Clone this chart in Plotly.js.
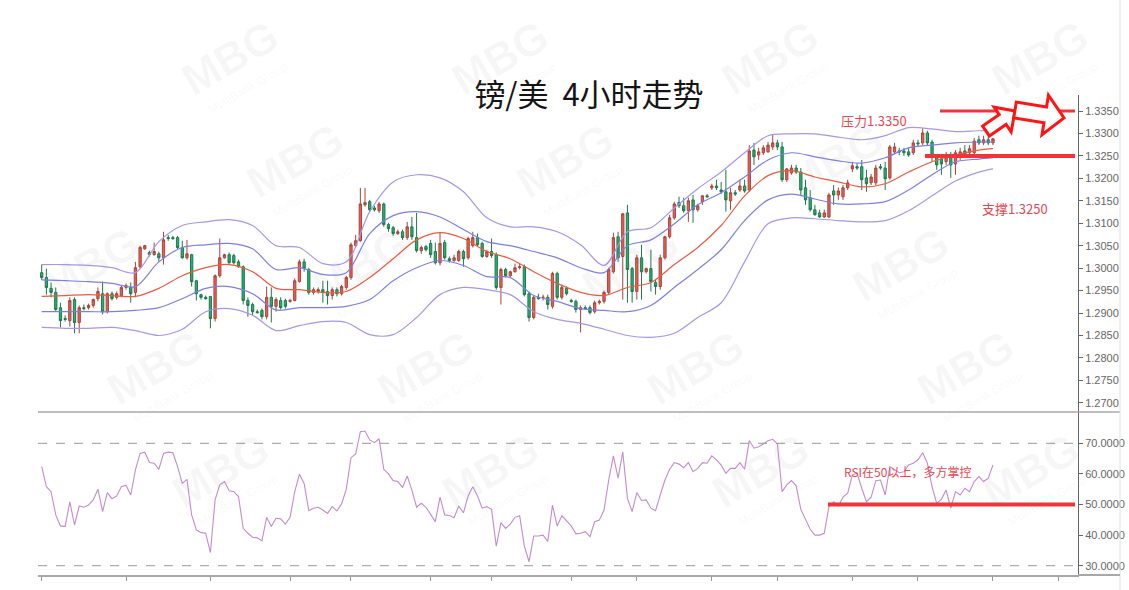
<!DOCTYPE html>
<html>
<head>
<meta charset="utf-8">
<script src="https://cdn.plot.ly/plotly-3.0.1.min.js"></script>
<style>html,body{margin:0;padding:0;background:#fff;}#chart{width:1129px;height:590px;}</style>
</head>
<body>
<div id="chart"></div>
<script>
// ---------- DATA ----------
const openP = [
1.2990,1.2979,1.2955,1.2946,1.2912,1.2888,1.2883,1.2930,1.2879,1.2912,
1.2912,1.2917,1.2932,1.2943,1.2903,1.2943,1.2935,1.2939,1.2957,1.2957,
1.2946,1.3003,1.3043,1.3035,1.3030,1.3032,1.3023,1.3068,1.3068,1.3068,
1.3046,1.3023,1.3030,1.2972,1.2941,1.2935,1.2937,1.2888,1.2983,1.3023,
1.3030,1.3028,1.3014,1.3003,1.2928,1.2919,1.2903,1.2906,1.2892,1.2935,
1.2915,1.2928,1.2928,1.2926,1.2928,1.2970,1.3014,1.2997,1.2946,1.2948,
1.2952,1.2948,1.2939,1.2952,1.2943,1.2957,1.2979,1.3050,1.3061,1.3141,
1.3148,1.3134,1.3128,1.3143,1.3097,1.3090,1.3077,1.3081,1.3068,1.3092,
1.3068,1.3039,1.3048,1.3055,1.3037,1.3012,1.3057,1.3021,1.3017,1.3017,
1.3037,1.3023,1.3050,1.3068,1.3055,1.3026,1.3037,1.3030,1.2957,1.2997,
1.2983,1.2992,1.3001,1.3003,1.2943,1.2890,1.2935,1.2935,1.2935,1.2915,
1.2988,1.2935,1.2955,1.2928,1.2926,1.2908,1.2912,1.2912,1.2903,1.2923,
1.2926,1.2946,1.2992,1.3070,1.3026,1.3123,1.2999,1.2948,1.3023,1.2992,
1.2999,1.2968,1.2959,1.3023,1.3070,1.3112,1.3146,1.3139,1.3128,1.3152,
1.3130,1.3148,1.3161,1.3179,1.3183,1.3174,1.3170,1.3150,1.3168,1.3174,
1.3183,1.3174,1.3263,1.3252,1.3257,1.3259,1.3270,1.3279,1.3270,1.3197,
1.3212,1.3223,1.3214,1.3179,1.3157,1.3130,1.3123,1.3114,1.3114,1.3172,
1.3163,1.3159,1.3179,1.3221,1.3226,1.3226,1.3201,1.3190,1.3190,1.3226,
1.3223,1.3201,1.3259,1.3261,1.3261,1.3259,1.3257,1.3279,1.3279,1.3301,
1.3281,1.3246,1.3243,1.3237,1.3248,1.3232,1.3248,1.3261,1.3257,1.3257,
1.3286,1.3279,1.3286,1.3279];
const highP = [
1.3008,1.2999,1.2968,1.2957,1.2923,1.2895,1.2935,1.2935,1.2917,1.2919,
1.2921,1.2932,1.2957,1.2970,1.2946,1.2948,1.2948,1.2961,1.2966,1.2968,
1.3014,1.3050,1.3052,1.3039,1.3057,1.3037,1.3081,1.3074,1.3072,1.3072,
1.3061,1.3063,1.3032,1.2974,1.2943,1.2939,1.2937,1.2986,1.3066,1.3032,
1.3035,1.3032,1.3019,1.3006,1.2935,1.2923,1.2908,1.2910,1.2959,1.2957,
1.2935,1.2935,1.2932,1.2932,1.2977,1.3019,1.3021,1.3001,1.2957,1.2957,
1.2972,1.2972,1.2957,1.2957,1.2963,1.2983,1.3057,1.3074,1.3179,1.3179,
1.3152,1.3139,1.3148,1.3146,1.3101,1.3094,1.3086,1.3086,1.3103,1.3114,
1.3123,1.3050,1.3052,1.3063,1.3057,1.3079,1.3063,1.3026,1.3030,1.3041,
1.3041,1.3070,1.3081,1.3077,1.3059,1.3041,1.3066,1.3035,1.3001,1.3001,
1.2994,1.3010,1.3010,1.3008,1.2948,1.2939,1.2943,1.2941,1.2941,1.2992,
1.2992,1.2961,1.2959,1.2932,1.2930,1.2917,1.2917,1.2917,1.2928,1.2930,
1.2950,1.3001,1.3079,1.3081,1.3123,1.3141,1.3003,1.3030,1.3052,1.3001,
1.3041,1.2974,1.3030,1.3072,1.3119,1.3148,1.3159,1.3157,1.3157,1.3163,
1.3143,1.3163,1.3165,1.3188,1.3197,1.3192,1.3219,1.3179,1.3174,1.3197,
1.3197,1.3274,1.3279,1.3268,1.3274,1.3281,1.3297,1.3286,1.3281,1.3223,
1.3230,1.3230,1.3223,1.3197,1.3174,1.3141,1.3130,1.3130,1.3168,1.3185,
1.3179,1.3185,1.3197,1.3237,1.3234,1.3241,1.3219,1.3210,1.3230,1.3232,
1.3237,1.3274,1.3279,1.3268,1.3268,1.3268,1.3286,1.3286,1.3312,1.3306,
1.3286,1.3252,1.3252,1.3259,1.3259,1.3263,1.3268,1.3274,1.3274,1.3290,
1.3295,1.3295,1.3295,1.3290];
const lowP = [
1.2974,1.2941,1.2935,1.2903,1.2868,1.2881,1.2870,1.2855,1.2855,1.2906,
1.2908,1.2912,1.2926,1.2897,1.2899,1.2928,1.2930,1.2935,1.2952,1.2923,
1.2935,1.2999,1.3041,1.3026,1.3028,1.3014,1.3008,1.3061,1.3063,1.3041,
1.3021,1.3019,1.2959,1.2928,1.2930,1.2930,1.2866,1.2881,1.2979,1.3021,
1.3010,1.3008,1.3001,1.2919,1.2892,1.2895,1.2899,1.2886,1.2886,1.2879,
1.2903,1.2908,1.2910,1.2923,1.2926,1.2968,1.2992,1.2941,1.2941,1.2943,
1.2923,1.2919,1.2930,1.2937,1.2939,1.2952,1.2974,1.3046,1.3059,1.3137,
1.3126,1.3126,1.3123,1.3092,1.3081,1.3072,1.3074,1.3063,1.3063,1.3063,
1.3035,1.3032,1.3037,1.3023,1.3008,1.3006,1.3019,1.3012,1.3014,1.3014,
1.3003,1.3019,1.3046,1.3048,1.3023,1.3023,1.3023,1.2952,1.2919,1.2979,
1.2979,1.2990,1.2997,1.2937,1.2881,1.2886,1.2930,1.2928,1.2908,1.2910,
1.2930,1.2930,1.2939,1.2923,1.2901,1.2857,1.2908,1.2897,1.2899,1.2919,
1.2921,1.2941,1.2988,1.3014,1.2930,1.2923,1.2923,1.2930,1.2930,1.2988,
1.2948,1.2941,1.2952,1.3019,1.3066,1.3108,1.3134,1.3123,1.3103,1.3101,
1.3126,1.3141,1.3157,1.3174,1.3174,1.3165,1.3126,1.3130,1.3161,1.3170,
1.3168,1.3170,1.3230,1.3241,1.3252,1.3257,1.3263,1.3263,1.3192,1.3192,
1.3208,1.3210,1.3163,1.3141,1.3126,1.3117,1.3112,1.3112,1.3112,1.3141,
1.3152,1.3152,1.3174,1.3214,1.3219,1.3174,1.3170,1.3185,1.3185,1.3219,
1.3174,1.3197,1.3254,1.3252,1.3250,1.3248,1.3252,1.3272,1.3274,1.3274,
1.3237,1.3219,1.3208,1.3230,1.3201,1.3208,1.3241,1.3248,1.3252,1.3252,
1.3274,1.3274,1.3274,1.3274];
const closeP = [
1.2979,1.2957,1.2946,1.2908,1.2883,1.2886,1.2928,1.2879,1.2912,1.2910,
1.2917,1.2930,1.2948,1.2903,1.2943,1.2932,1.2943,1.2957,1.2961,1.2943,
1.3001,1.3046,1.3050,1.3030,1.3037,1.3023,1.3063,1.3066,1.3066,1.3046,
1.3023,1.3032,1.2970,1.2943,1.2935,1.2932,1.2888,1.2983,1.3023,1.3030,
1.3012,1.3012,1.3003,1.2928,1.2917,1.2903,1.2901,1.2892,1.2935,1.2915,
1.2930,1.2912,1.2915,1.2928,1.2972,1.3014,1.2999,1.2946,1.2952,1.2952,
1.2946,1.2939,1.2952,1.2943,1.2959,1.2979,1.3052,1.3061,1.3143,1.3146,
1.3130,1.3130,1.3143,1.3097,1.3088,1.3077,1.3081,1.3068,1.3092,1.3070,
1.3039,1.3046,1.3041,1.3030,1.3012,1.3055,1.3023,1.3017,1.3023,1.3037,
1.3021,1.3066,1.3068,1.3052,1.3026,1.3037,1.3028,1.2957,1.2997,1.2983,
1.2992,1.3001,1.3003,1.2941,1.2890,1.2935,1.2932,1.2935,1.2919,1.2988,
1.2935,1.2957,1.2943,1.2926,1.2908,1.2912,1.2910,1.2901,1.2923,1.2926,
1.2946,1.2997,1.3068,1.3023,1.3121,1.2997,1.2948,1.3023,1.2992,1.2999,
1.2970,1.2959,1.3023,1.3070,1.3112,1.3143,1.3139,1.3128,1.3150,1.3130,
1.3139,1.3161,1.3159,1.3183,1.3179,1.3170,1.3152,1.3168,1.3165,1.3183,
1.3172,1.3261,1.3248,1.3259,1.3268,1.3274,1.3279,1.3270,1.3197,1.3221,
1.3223,1.3214,1.3174,1.3152,1.3130,1.3119,1.3114,1.3123,1.3163,1.3163,
1.3172,1.3179,1.3190,1.3228,1.3223,1.3197,1.3188,1.3203,1.3223,1.3223,
1.3199,1.3270,1.3270,1.3259,1.3257,1.3252,1.3279,1.3277,1.3301,1.3279,
1.3248,1.3230,1.3232,1.3252,1.3230,1.3257,1.3259,1.3252,1.3266,1.3283,
1.3279,1.3286,1.3279,1.3288];

// Bollinger-style band lines, read at every 5th bar
const bandBars = [0,5,10,15,20,25,30,35,40,45,50,55,60,65,70,75,80,85,90,95,100,105,110,115,120,125,130,135,140,145,150,155,160,165,170,175,180,185,190,195,200,203];
const upperOuter = [1.3008,1.3008,1.3006,1.3001,1.2990,1.3059,1.3095,1.3103,1.3108,1.3095,1.3050,1.3046,1.3010,1.3014,1.3126,1.3192,1.3208,1.3201,1.3170,1.3112,1.3092,1.3092,1.3081,1.3052,1.3006,1.3081,1.3090,1.3134,1.3177,1.3214,1.3257,1.3295,1.3299,1.3299,1.3292,1.3286,1.3295,1.3313,1.3310,1.3304,1.3306,1.3306];
const upperInner = [1.2974,1.2972,1.2970,1.2966,1.2959,1.3014,1.3046,1.3052,1.3055,1.3043,1.2997,1.3001,1.2986,1.2990,1.3077,1.3117,1.3126,1.3114,1.3086,1.3059,1.3050,1.3037,1.3023,1.3001,1.2990,1.3050,1.3063,1.3099,1.3141,1.3168,1.3203,1.3241,1.3257,1.3248,1.3239,1.3234,1.3246,1.3268,1.3274,1.3279,1.3281,1.3281];
const middleLine = [1.2937,1.2939,1.2941,1.2939,1.2937,1.2955,1.2983,1.3001,1.3008,1.2992,1.2955,1.2952,1.2946,1.2948,1.2979,1.3021,1.3063,1.3079,1.3066,1.3037,1.3021,1.2992,1.2966,1.2946,1.2939,1.2957,1.2968,1.3008,1.3046,1.3095,1.3161,1.3206,1.3217,1.3203,1.3192,1.3181,1.3188,1.3214,1.3237,1.3252,1.3263,1.3266];
const lowerInner = [1.2903,1.2903,1.2903,1.2903,1.2906,1.2912,1.2932,1.2955,1.2959,1.2943,1.2907,1.2912,1.2912,1.2915,1.2930,1.2972,1.3001,1.3017,1.3006,1.2981,1.2979,1.2939,1.2926,1.2910,1.2906,1.2903,1.2917,1.2957,1.2997,1.3041,1.3106,1.3152,1.3165,1.3154,1.3143,1.3143,1.3148,1.3174,1.3208,1.3237,1.3243,1.3246];
const lowerOuter = [1.2868,1.2866,1.2866,1.2868,1.2861,1.2850,1.2864,1.2903,1.2910,1.2895,1.2861,1.2872,1.2881,1.2879,1.2852,1.2852,1.2890,1.2941,1.2957,1.2952,1.2941,1.2903,1.2886,1.2877,1.2864,1.2850,1.2846,1.2855,1.2890,1.2923,1.3014,1.3099,1.3112,1.3110,1.3106,1.3103,1.3106,1.3128,1.3161,1.3194,1.3214,1.3221];

const rsiValues = [
62.4,55.8,54.2,46.6,43.0,42.8,50.9,43.3,49.5,49.1,49.8,51.5,55.0,47.7,53.9,51.9,52.8,55.8,56.3,53.1,
61.3,66.7,67.1,63.7,63.5,61.5,66.7,67.1,66.9,62.4,56.9,58.2,46.6,41.7,40.8,40.6,34.3,51.5,56.4,57.5,
54.5,54.2,52.6,42.2,40.6,39.3,39.1,38.1,45.8,42.8,45.5,45.3,43.6,45.8,54.2,59.9,56.9,48.0,48.8,49.1,
48.2,47.1,49.3,47.9,50.2,55.0,65.3,66.5,73.8,74.0,71.1,70.2,71.5,61.5,60.0,57.8,57.5,55.6,59.3,54.7,
49.1,50.4,49.1,46.6,
44.4,52.4,46.6,46.4,45.7,49.5,47.3,52.8,55.8,52.8,48.8,49.3,48.4,36.4,44.1,42.2,43.6,45.8,46.3,36.4,
31.3,39.7,39.7,40.0,37.9,49.8,43.0,46.3,44.6,43.0,40.4,40.6,41.1,39.5,44.4,44.9,48.2,58.0,65.9,58.6,
67.2,52.0,47.7,53.9,51.3,51.5,48.8,48.0,53.1,58.0,61.5,63.7,63.2,62.0,63.7,60.7,61.8,63.7,63.5,65.9,
64.6,62.9,60.2,61.8,61.8,63.7,61.5,70.9,68.4,68.9,69.8,70.8,71.3,69.8,54.2,56.4,57.8,56.1,48.4,44.9,
41.9,40.0,
40.0,40.6,49.3,50.9,49.5,52.4,53.7,59.7,60.2,55.3,50.9,52.4,57.8,58.0,53.1,62.4,61.3,60.4,60.7,62.9,
63.5,64.6,66.9,63.5,55.8,50.4,51.7,54.7,48.8,54.2,53.1,55.3,54.2,57.5,59.1,57.5,58.6,62.9];

const priceTicks = [1.2700,1.2750,1.2800,1.2850,1.2900,1.2950,1.3000,1.3050,1.3100,1.3150,1.3200,1.3250,1.3300,1.3350];
const rsiTicks = [30,40,50,60,70];
const dayTicks = [0,18,36,53,66,83,96,113,127,143,157,173,187,203,217];

const resistanceLevel = 1.3350;
const supportLevel = 1.3250;
const rsiMidLevel = 50;
const rsiUpper = 70, rsiLower = 30;

// ---------- LAYOUT GEOMETRY ----------
const W = 1129, H = 590;
const PL = 38, PR = 1078, PT = 95, PB = 575;
const splitPx = 412;
const fx = x => (x - PL) / (PR - PL);
const fy = y => (PB - y) / (PB - PT);
const barPx = 4.686, bar0Px = 41.7;
const xAt = p => (p - bar0Px) / barPx;   // pixel -> bar index (for decorations)

const idx = openP.map((_, i) => i);
const rsiIdx = rsiValues.map((_, i) => i);

function bandTrace(y, color, w) {
  return {type:'scatter', mode:'lines', x: bandBars, y: y, xaxis:'x', yaxis:'y',
    line:{color:color, width:w, shape:'spline', smoothing:0.9}, hoverinfo:'skip', showlegend:false};
}

const traces = [
  bandTrace(upperOuter, '#a597ea', 1.2),
  bandTrace(upperInner, '#7d7fe6', 1.2),
  bandTrace(lowerInner, '#7d7fe6', 1.2),
  bandTrace(lowerOuter, '#a597ea', 1.2),
  bandTrace(middleLine, '#ee5a3e', 1.2),
  {type:'candlestick', x: idx, open: openP, high: highP, low: lowP, close: closeP,
   xaxis:'x', yaxis:'y', showlegend:false, whiskerwidth:0,
   increasing:{fillcolor:'#ec5e52', line:{color:'#a8453e', width:1}},
   decreasing:{fillcolor:'#23b370', line:{color:'#22774e', width:1}}},
  {type:'scatter', mode:'lines', x: rsiIdx, y: rsiValues, xaxis:'x', yaxis:'y2',
   line:{color:'#c48bcc', width:1.1}, showlegend:false, hoverinfo:'skip'}
];

function arrowPath(tx, ty, hx, hy, s, h, L) {
  const dx = hx - tx, dy = hy - ty, len = Math.hypot(dx, dy);
  const ux = dx/len, uy = dy/len, nx = -uy, ny = ux;
  const neckX = hx - ux*L, neckY = hy - uy*L;
  const pts = [
    [tx + nx*s, ty + ny*s], [neckX + nx*s, neckY + ny*s], [neckX + nx*h, neckY + ny*h],
    [hx, hy], [neckX - nx*h, neckY - ny*h], [neckX - nx*s, neckY - ny*s], [tx - nx*s, ty - ny*s]
  ];
  return 'M ' + pts.map(p => fx(p[0]).toFixed(5) + ' ' + fy(p[1]).toFixed(5)).join(' L ') + ' Z';
}

const red = '#f2343a';
const shapes = [
  {type:'line', xref:'paper', yref:'y2', x0:0, x1:1, y0:rsiUpper, y1:rsiUpper, line:{color:'#999', width:1, dash:'dash'}},
  {type:'line', xref:'paper', yref:'y2', x0:0, x1:1, y0:rsiLower, y1:rsiLower, line:{color:'#999', width:1, dash:'dash'}},
  {type:'line', xref:'paper', yref:'paper', x0:0, x1:fx(1120), y0:fy(splitPx), y1:fy(splitPx), line:{color:'#a8a8a8', width:1.5}},
  {type:'line', xref:'paper', yref:'paper', x0:fx(1120), x1:fx(1120), y0:fy(590), y1:fy(0), line:{color:'#e2e2e2', width:1}},
  {type:'line', xref:'paper', yref:'paper', x0:fx(PR), x1:fx(1120), y0:0, y1:0, line:{color:'#a8a8a8', width:2}},
  {type:'line', xref:'x', yref:'y', x0:xAt(940), x1:xAt(1075), y0:resistanceLevel, y1:resistanceLevel, line:{color:red, width:3}},
  {type:'line', xref:'x', yref:'y', x0:xAt(925), x1:xAt(1075), y0:supportLevel, y1:supportLevel, line:{color:red, width:4}},
  {type:'line', xref:'x', yref:'y2', x0:xAt(828), x1:xAt(1075), y0:rsiMidLevel, y1:rsiMidLevel, line:{color:red, width:4}},
  {type:'path', xref:'paper', yref:'paper', path: arrowPath(986, 131, 1015, 111, 6, 15, 15), line:{color:'#ff1414', width:3}, fillcolor:'#ffffff'},
  {type:'path', xref:'paper', yref:'paper', path: arrowPath(1015, 110, 1064, 118, 8, 20, 19), line:{color:'#ff1414', width:3}, fillcolor:'#ffffff'}
];

// faint watermark pattern (kept fully inside the picture)
const annotations = [];
for (let r = 0; r < 5; r++) {
  const wy = 58 + 103*r;
  const x0 = (230 + 65*r) % 270;
  for (let k = -1; k < 6; k++) {
    const wx = x0 + 270*k;
    if (wx < 60 || wx > 1070) continue;
    annotations.push({xref:'paper', yref:'paper', x:fx(wx), y:fy(wy), text:'MBG', showarrow:false, textangle:-30,
      font:{family:'Liberation Sans', size:44, color:'rgba(120,120,120,0.06)', weight:700}, xanchor:'center', yanchor:'middle'});
    annotations.push({xref:'paper', yref:'paper', x:fx(wx + 18), y:fy(wy + 30), text:'MultiBank Group', showarrow:false, textangle:-30,
      font:{family:'Liberation Sans', size:12, color:'rgba(120,120,120,0.06)'}, xanchor:'center', yanchor:'middle'});
  }
}
const txtRed = '#e8474f';
annotations.push({xref:'paper', yref:'paper', x:fx(874), y:fy(120), text:'压力1.3350', showarrow:false,
  font:{family:'Noto Sans CJK SC', size:13, color:txtRed}, xanchor:'center', yanchor:'middle'});
annotations.push({xref:'paper', yref:'paper', x:fx(1015), y:fy(208), text:'支撑1.3250', showarrow:false,
  font:{family:'Noto Sans CJK SC', size:13, color:txtRed}, xanchor:'center', yanchor:'middle'});
annotations.push({xref:'paper', yref:'paper', x:fx(907), y:fy(471), text:'RSI在50以上，多方掌控', showarrow:false,
  font:{family:'Noto Sans CJK SC', size:12, color:txtRed}, xanchor:'center', yanchor:'middle'});

const axisFont = {family:'Liberation Sans, Arial, sans-serif', size:11, color:'#666'};
const layout = {
  width: W, height: H,
  margin: {l: PL, r: W - PR, t: PT, b: H - PB, pad: 0},
  paper_bgcolor: '#fff', plot_bgcolor: 'rgba(0,0,0,0)',
  showlegend: false,
  title: {text: '镑/美\u00a0\u00a04小时走势', x: 589/W, xanchor: 'center', y: 1 - 95/H, yanchor: 'middle',
          font: {family: 'Noto Sans CJK SC', size: 31, color: '#151515', weight: 400}},
  xaxis: {type:'linear', range: [xAt(PL), xAt(PR)], anchor: 'y2', domain: [0, 1],
          showline: true, linecolor: '#a8a8a8', linewidth: 2, ticks: 'outside', ticklen: 4, tickcolor: '#999',
          tickvals: dayTicks, showticklabels: false, showgrid: false, zeroline: false,
          rangeslider: {visible: false}, fixedrange: true},
  yaxis: {domain: [fy(splitPx), 1], range: [1.3350 - (splitPx - 111)/4490, 1.3350 + (111 - PT)/4490],
          side: 'right', anchor: 'x', showline: true, linecolor: '#666', linewidth: 1,
          ticks: 'outside', ticklen: 4, tickcolor: '#666', tickvals: priceTicks, tickformat: '.4f',
          tickfont: axisFont, showgrid: false, zeroline: false, fixedrange: true},
  yaxis2: {domain: [0, fy(splitPx)], range: [70 - (PB - 443.3)/3.06, 70 + (443.3 - splitPx)/3.06],
          side: 'right', anchor: 'x', showline: true, linecolor: '#666', linewidth: 1,
          ticks: 'outside', ticklen: 4, tickcolor: '#666', tickvals: rsiTicks, tickformat: '.4f',
          tickfont: axisFont, showgrid: false, zeroline: false, fixedrange: true},
  shapes: shapes,
  annotations: annotations
};

Plotly.newPlot('chart', traces, layout, {displayModeBar: false, staticPlot: true});
</script>
</body>
</html>
